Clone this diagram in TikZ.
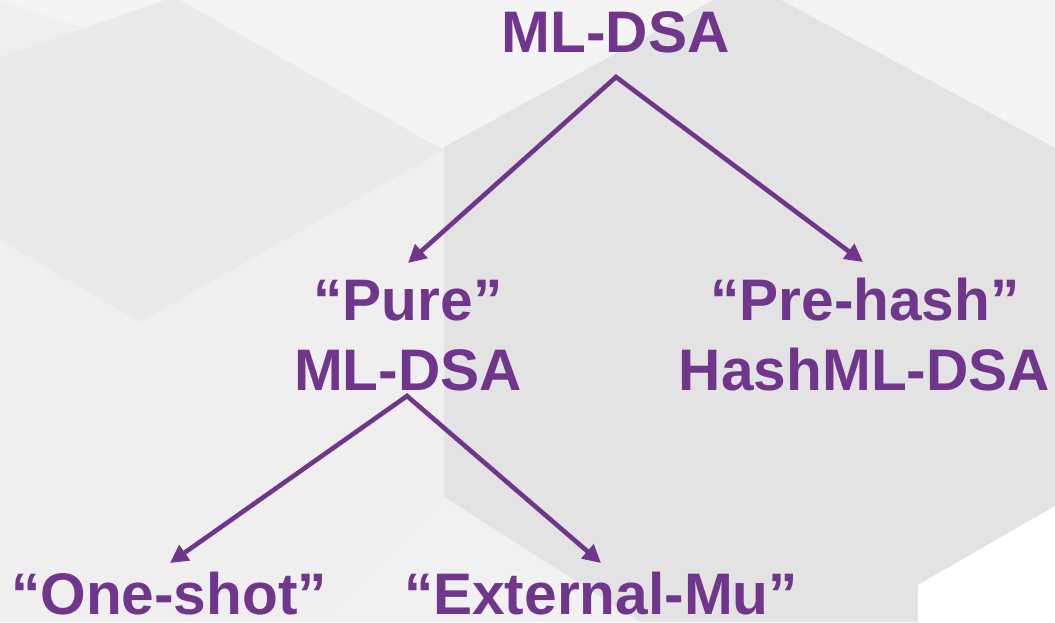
\documentclass[tikz,border=0pt]{standalone}
\usepackage{fontspec}
\setmainfont{Liberation Sans}
\usetikzlibrary{arrows.meta,calc}
\definecolor{plum}{HTML}{70368B}
\definecolor{bgbase}{HTML}{EFEFEF}
\definecolor{bglight}{HTML}{F4F4F4}
\definecolor{bgdiamond}{HTML}{EAEAEA}
\definecolor{bghex}{HTML}{E3E3E3}
\definecolor{bgwedge}{HTML}{F1F1F1}
\tikzset{
  lbl/.style={text=plum, font=\fontsize{58.6pt}{70pt}\selectfont\bfseries, inner sep=0pt, anchor=base, text depth=0pt},
  conn/.style={draw=plum, line width=4.6pt, line join=miter,
    {Triangle[length=18pt,width=18pt]}-{Triangle[length=18pt,width=18pt]}},
}
\begin{document}
\begin{tikzpicture}[x=1pt,y=-1pt]
\useasboundingbox (0,0) rectangle (1055,622);
% background facets
\fill[bgbase] (0,0) rectangle (1055,622);
\fill[bglight] (0,0) -- (714,0) -- (444,147) -- cycle;
\fill[bglight] (781,0) -- (1055,0) -- (1055,148) -- cycle;
\fill[bgdiamond] (0,57) -- (165,0) -- (180,0) -- (443,150) -- (140,322) -- (0,240) -- cycle;
\fill[bghex] (444,147) -- (714,0) -- (781,0) -- (1055,148) -- (1055,506) -- (918,585) -- (918,622) -- (640,622) -- (444,497) -- cycle;
\fill[bgwedge] (444,497) -- (640,622) -- (320,622) -- cycle;
\fill[white] (918,585) -- (1055,506) -- (1055,622) -- (918,622) -- cycle;
% labels
\node[lbl] (top) at (615.5,52) {ML-DSA};
\node[lbl] (pure1) at (408,320) {“Pure”};
\node[lbl] (pure2) at (408,390) {ML-DSA};
\node[lbl] (pre1) at (865,320) {“Pre-hash”};
\node[lbl] (pre2) at (864.5,390) {HashML-DSA};
\node[lbl] (one) at (169,614) {“One-shot”};
\node[lbl] (ext) at (601,614) {“External-Mu”};
% connector points
\coordinate (a1) at ([xshift=0.5pt,yshift=-25pt]top.base);
\coordinate (a2) at ([xshift=-1pt,yshift=-6pt]pure2.base);
\coordinate (t1) at ([yshift=57pt]pure1.base);
\coordinate (t2) at ([xshift=-2pt,yshift=58pt]pre1.base);
\coordinate (t3) at ([xshift=1pt,yshift=51pt]one.base);
\coordinate (t4) at ([yshift=51pt]ext.base);
% connectors
\draw[conn] (t1) -- (a1) -- (t2);
\draw[conn] (t3) -- (a2) -- (t4);
\end{tikzpicture}
\end{document}
